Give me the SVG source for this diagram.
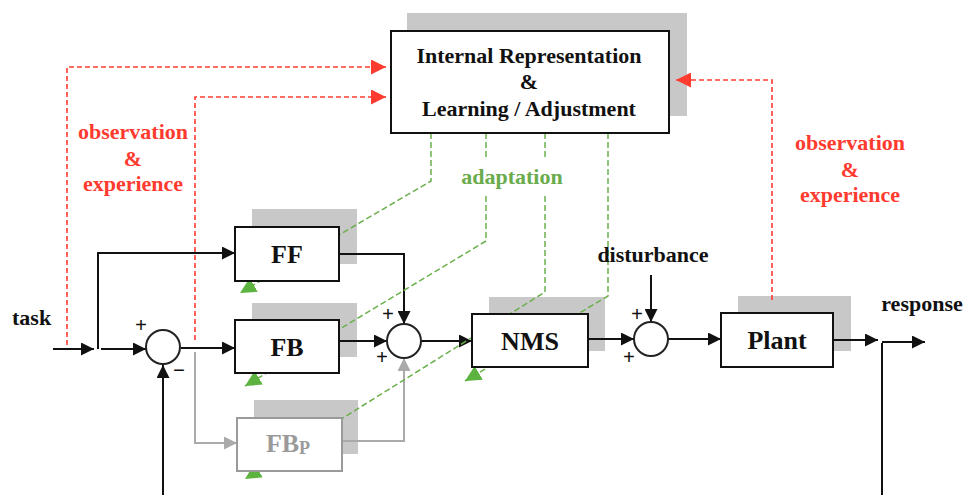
<svg xmlns="http://www.w3.org/2000/svg" width="965" height="495" viewBox="0 0 965 495">
<style>
text{font-family:"Liberation Serif","Times New Roman",serif;font-weight:bold;}
.lbl{font-size:22px;fill:#111;}
.box{fill:#fff;stroke:#111;stroke-width:2;}
.gbox{fill:#fff;stroke:#9a9a9a;stroke-width:2;}
.sh{fill:#c8c8c8;}
.bt{font-size:26px;fill:#111;text-anchor:middle;}
.red{font-size:22px;fill:#ff3b30;text-anchor:middle;}
.grn{font-size:22px;fill:#6aab4c;text-anchor:middle;}
.blk{fill:none;stroke:#111;stroke-width:2;}
.gry{fill:none;stroke:#aaa;stroke-width:2;}
.rd{fill:none;stroke:#ff3b30;stroke-width:1.6;stroke-dasharray:5 3;}
.gd{fill:none;stroke:#6ab04c;stroke-width:1.5;stroke-dasharray:6 3;}
.sum{fill:#fff;stroke:#222;stroke-width:2;}
.pm{font-size:21px;fill:#111;text-anchor:middle;}
</style>
<defs>
<marker id="ab" viewBox="0 0 10 10" refX="10" refY="5" markerWidth="15" markerHeight="13" markerUnits="userSpaceOnUse" orient="auto"><path d="M0,0L10,5L0,10z" fill="#111"/></marker>
<marker id="ag" viewBox="0 0 10 10" refX="10" refY="5" markerWidth="15" markerHeight="13" markerUnits="userSpaceOnUse" orient="auto"><path d="M0,0L10,5L0,10z" fill="#aaa"/></marker>
<marker id="ar" viewBox="0 0 10 10" refX="10" refY="5" markerWidth="16" markerHeight="15" markerUnits="userSpaceOnUse" orient="auto"><path d="M0,0L10,5L0,10z" fill="#ff3b30"/></marker>
<marker id="agr" viewBox="0 0 10 10" refX="10" refY="5" markerWidth="16" markerHeight="18" markerUnits="userSpaceOnUse" orient="auto"><path d="M0,0L10,5L0,10z" fill="#5cb33f"/></marker>
</defs>
<rect width="965" height="495" fill="#fff"/>
<g id="shadows">
<rect class="sh" x="407" y="13" width="280" height="103"/>
<rect class="sh" x="252" y="209" width="105" height="55"/>
<rect class="sh" x="252" y="303" width="105" height="54"/>
<rect class="sh" x="254" y="400" width="104" height="54"/>
<rect class="sh" x="489" y="297" width="116" height="54"/>
<rect class="sh" x="738" y="296" width="113" height="55"/>
</g>
<g id="connectors">
<path class="blk" d="M53,349H94" marker-end="url(#ab)"/>
<path class="blk" d="M98,349V253H235" marker-end="url(#ab)"/>
<path class="blk" d="M101,349H146" marker-end="url(#ab)"/>
<path class="blk" d="M163,495V365" marker-end="url(#ab)"/>
<path class="blk" d="M181,348H235" marker-end="url(#ab)"/>
<path class="blk" d="M339,341H387" marker-end="url(#ab)"/>
<path class="blk" d="M339,254H404V324" marker-end="url(#ab)"/>
<path class="blk" d="M421,341H472" marker-end="url(#ab)"/>
<path class="blk" d="M588,339H634" marker-end="url(#ab)"/>
<path class="blk" d="M651,275V322" marker-end="url(#ab)"/>
<path class="blk" d="M668,339H721" marker-end="url(#ab)"/>
<path class="blk" d="M833,340H878" marker-end="url(#ab)"/>
<path class="blk" d="M882,343V495"/>
<path class="blk" d="M882,342H925" marker-end="url(#ab)"/>
<path class="gry" d="M195,352V443H237" marker-end="url(#ag)"/>
<path class="gry" d="M342,441H404V358" marker-end="url(#ag)"/>
<path class="rd" d="M67,345V67H386" marker-end="url(#ar)"/>
<path class="rd" d="M195,340V97H386" marker-end="url(#ar)"/>
<path class="rd" d="M772,300V80H676" marker-end="url(#ar)"/>
<path class="gd" d="M431,133V181L240,293" marker-end="url(#agr)"/>
<path class="gd" d="M486,133V160"/>
<path class="gd" d="M486,196V241L245,386" marker-end="url(#agr)"/>
<path class="gd" d="M545,133V160"/>
<path class="gd" d="M545,196V292L245,479" marker-end="url(#agr)"/>
<path class="gd" d="M608,133V296L465,381" marker-end="url(#agr)"/>
</g>
<g id="ir">
<rect class="box" x="391" y="31" width="278" height="102"/>
<text class="lbl" x="529" y="63" text-anchor="middle">Internal Representation</text>
<text class="lbl" x="529" y="89" text-anchor="middle">&amp;</text>
<text class="lbl" x="529" y="116" text-anchor="middle">Learning / Adjustment</text>
</g>
<g id="ff">
<rect class="box" x="235" y="227" width="104" height="54"/>
<text class="bt" x="287" y="263">FF</text>
</g>
<g id="fb">
<rect class="box" x="235" y="320" width="104" height="53"/>
<text class="bt" x="287" y="356">FB</text>
</g>
<g id="fbp">
<rect class="gbox" x="237" y="418" width="105" height="53"/>
<text class="bt" x="288" y="452" style="fill:#9a9a9a">FB<tspan font-size="18" dy="2">P</tspan></text>
</g>
<g id="nms">
<rect class="box" x="472" y="314" width="116" height="53"/>
<text class="bt" x="530" y="350">NMS</text>
</g>
<g id="plant">
<rect class="box" x="721" y="313" width="112" height="54"/>
<text class="bt" x="777" y="349">Plant</text>
</g>
<g id="sum1">
<circle class="sum" cx="163" cy="347" r="17"/>
<text class="pm" x="141" y="332">+</text>
<text class="pm" x="179" y="377">−</text>
</g>
<g id="sum2">
<circle class="sum" cx="404" cy="341" r="17"/>
<text class="pm" x="388" y="321">+</text>
<text class="pm" x="382" y="364">+</text>
</g>
<g id="sum3">
<circle class="sum" cx="651" cy="339" r="17"/>
<text class="pm" x="637" y="321">+</text>
<text class="pm" x="629" y="364">+</text>
</g>
<g id="labels">
<text class="lbl" x="12" y="325">task</text>
<text class="lbl" x="653" y="262" text-anchor="middle">disturbance</text>
<text class="lbl" x="922" y="311" text-anchor="middle">response</text>
<text class="grn" x="512" y="184">adaptation</text>
<text class="red" x="133" y="139">observation</text>
<text class="red" x="133" y="166">&amp;</text>
<text class="red" x="133" y="191">experience</text>
<text class="red" x="850" y="150">observation</text>
<text class="red" x="850" y="177">&amp;</text>
<text class="red" x="850" y="202">experience</text>
</g>
</svg>
